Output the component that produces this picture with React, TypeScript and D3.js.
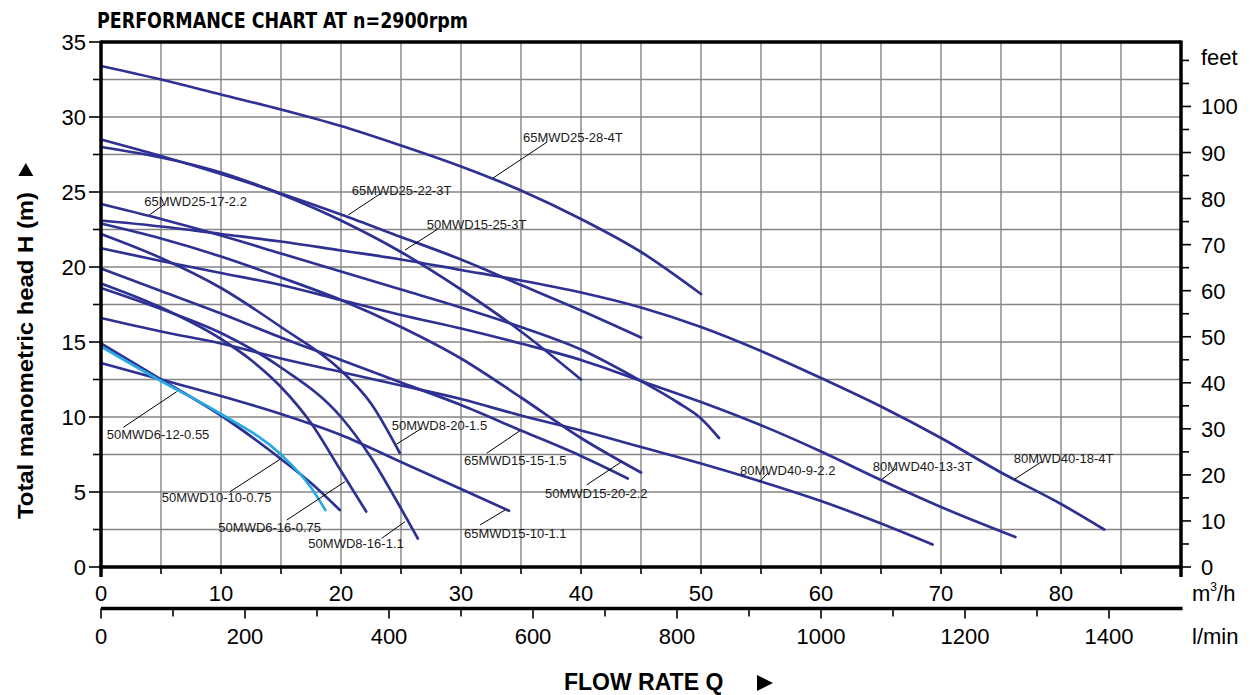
import React from 'react';
import * as d3 from 'd3';

type Pt = [number, number];

// ---------- axis tick values ----------
const flowTicksM3h = [0, 10, 20, 30, 40, 50, 60, 70, 80];
const flowMinorM3h = [5, 15, 25, 35, 45, 55, 65, 75, 85];
const headTicks = [0, 5, 10, 15, 20, 25, 30, 35];
const headMinor = [2.5, 7.5, 12.5, 17.5, 22.5, 27.5, 32.5];
const feetTicks = [0, 10, 20, 30, 40, 50, 60, 70, 80, 90, 100];
const feetMinor = [5, 15, 25, 35, 45, 55, 65, 75, 85, 95, 105, 110];
const lminTicks = [0, 200, 400, 600, 800, 1000, 1200, 1400];
const lminMinor = [100, 300, 500, 700, 900, 1100, 1300];

// ---------- pump curves: [Q m3/h, H m] ----------
const p65MWD25_28_4T: Pt[] = [[0, 33.4], [5, 32.5], [10, 31.5], [15, 30.5], [20, 29.4], [25, 28.1], [30, 26.7], [35, 25.1], [40, 23.2], [45, 21.0], [50, 18.2]];
const p65MWD25_22_3T: Pt[] = [[0, 28.5], [5, 27.4], [10, 26.2], [15, 24.9], [20, 23.5], [25, 22.0], [30, 20.5], [35, 18.8], [40, 17.1], [45, 15.3]];
const p50MWD15_25_3T: Pt[] = [[0, 28.0], [5, 27.3], [10, 26.3], [15, 24.85], [20, 23.1], [25, 21.0], [30, 18.5], [35, 15.7], [40, 12.5]];
const p65MWD25_17_22: Pt[] = [[0, 24.2], [5, 23.2], [10, 22.1], [15, 20.9], [20, 19.7], [25, 18.5], [30, 17.3], [35, 16.0], [40, 14.5], [45, 12.4], [48, 11.0], [50, 9.9], [51.5, 8.6]];
const p80MWD40_18_4T: Pt[] = [[0, 23.1], [5, 22.7], [10, 22.2], [15, 21.7], [20, 21.1], [25, 20.5], [30, 19.8], [35, 19.1], [40, 18.3], [45, 17.3], [50, 16.0], [55, 14.4], [60, 12.6], [65, 10.7], [70, 8.6], [75, 6.3], [80, 4.2], [83.6, 2.5]];
const p50MWD15_20_22: Pt[] = [[0, 22.9], [5, 21.9], [10, 20.7], [15, 19.3], [20, 17.8], [25, 16.0], [30, 13.9], [35, 11.3], [40, 8.6], [45, 6.3]];
const p50MWD8_20_15: Pt[] = [[0, 22.2], [5, 20.6], [10, 18.6], [15, 16.0], [20, 13.1], [22.5, 10.9], [24.9, 7.6]];
const p80MWD40_13_3T: Pt[] = [[0, 21.25], [5, 20.4], [10, 19.6], [15, 18.8], [20, 17.8], [25, 16.8], [30, 15.9], [35, 14.9], [40, 13.8], [45, 12.4], [50, 11.0], [55, 9.45], [60, 7.7], [65, 5.8], [70, 4.0], [76.2, 2.0]];
const p65MWD15_15_15: Pt[] = [[0, 19.9], [5, 18.4], [10, 16.9], [15, 15.3], [20, 13.8], [25, 12.3], [30, 10.8], [35, 9.1], [40, 7.4], [43.9, 5.9]];
const p50MWD6_16_075: Pt[] = [[0, 18.9], [5, 17.3], [10, 15.2], [12.5, 13.8], [15, 12.0], [17.5, 9.6], [20, 6.4], [22.1, 3.7]];
const p50MWD8_16_11: Pt[] = [[0, 18.6], [5, 17.2], [10, 15.6], [15, 13.3], [20, 10.0], [22.5, 7.3], [24.5, 4.6], [26.4, 1.9]];
const p80MWD40_9_22: Pt[] = [[0, 16.6], [5, 15.7], [10, 14.9], [15, 13.9], [20, 13.0], [25, 12.1], [30, 11.2], [35, 10.1], [40, 9.1], [45, 8.0], [50, 6.9], [55, 5.7], [60, 4.4], [65, 2.9], [69.3, 1.5]];
const p50MWD10_10_075: Pt[] = [[0, 14.9], [5, 12.5], [10, 10.1], [15, 7.2], [17.5, 5.6], [19.9, 3.8]];
const p65MWD15_10_11: Pt[] = [[0, 13.6], [5, 12.5], [10, 11.4], [15, 10.2], [20, 8.8], [25, 7.0], [30, 5.2], [34, 3.75]];
const p50MWD6_12_055: Pt[] = [[0, 14.7], [5, 12.4], [10, 10.2], [15, 7.5], [17.5, 5.3], [18.7, 3.8]];

const curves: { name: string; data: Pt[]; light?: boolean }[] = [
  { name: '65MWD25-28-4T', data: p65MWD25_28_4T },
  { name: '65MWD25-22-3T', data: p65MWD25_22_3T },
  { name: '50MWD15-25-3T', data: p50MWD15_25_3T },
  { name: '65MWD25-17-2.2', data: p65MWD25_17_22 },
  { name: '80MWD40-18-4T', data: p80MWD40_18_4T },
  { name: '50MWD15-20-2.2', data: p50MWD15_20_22 },
  { name: '50MWD8-20-1.5', data: p50MWD8_20_15 },
  { name: '80MWD40-13-3T', data: p80MWD40_13_3T },
  { name: '65MWD15-15-1.5', data: p65MWD15_15_15 },
  { name: '50MWD6-16-0.75', data: p50MWD6_16_075 },
  { name: '50MWD8-16-1.1', data: p50MWD8_16_11 },
  { name: '80MWD40-9-2.2', data: p80MWD40_9_22 },
  { name: '50MWD10-10-0.75', data: p50MWD10_10_075 },
  { name: '65MWD15-10-1.1', data: p65MWD15_10_11 },
  { name: '50MWD6-12-0.55', data: p50MWD6_12_055, light: true },
];

// label annotations in data units: text anchor (q,h) and leader (q1,h1)->(q2,h2)
const labels: { text: string; q: number; h: number; l: [number, number, number, number] }[] = [
  { text: '65MWD25-28-4T', q: 35.17, h: 28.33, l: [37.17, 28.33, 32.67, 25.93] },
  { text: '65MWD25-22-3T', q: 20.89, h: 24.8, l: [23.25, 24.87, 20.61, 23.47] },
  { text: '65MWD25-17-2.2', q: 3.61, h: 24.07, l: [5.19, 24.13, 4.03, 23.47] },
  { text: '50MWD15-25-3T', q: 27.14, h: 22.53, l: [28.03, 22.51, 25.33, 21.13] },
  { text: '50MWD8-20-1.5', q: 24.23, h: 9.13, l: [26.73, 9.25, 24.64, 8.2] },
  { text: '65MWD15-15-1.5', q: 30.25, h: 6.8, l: [34.92, 9.09, 32.14, 7.58] },
  { text: '50MWD15-20-2.2', q: 37.0, h: 4.6, l: [43.39, 7.02, 40.47, 5.47] },
  { text: '80MWD40-9-2.2', q: 53.25, h: 6.13, l: [54.88, 5.67, 55.58, 6.27] },
  { text: '80MWD40-13-3T', q: 64.32, h: 6.42, l: [65.08, 5.85, 66.28, 6.58] },
  { text: '80MWD40-18-4T', q: 76.07, h: 6.95, l: [76.13, 5.85, 78.38, 7.02] },
  { text: '50MWD6-12-0.55', q: 0.48, h: 8.53, l: [1.86, 9.31, 6.31, 11.69] },
  { text: '50MWD10-10-0.75', q: 5.06, h: 4.35, l: [10.75, 5.02, 14.92, 7.18] },
  { text: '50MWD6-16-0.75', q: 9.78, h: 2.35, l: [15.48, 3.13, 20.33, 5.69] },
  { text: '50MWD8-16-1.1', q: 17.28, h: 1.25, l: [23.39, 1.91, 25.33, 3.02] },
  { text: '65MWD15-10-1.1', q: 30.25, h: 1.93, l: [31.58, 2.8, 33.67, 3.8] },
];

const FONT = '"Liberation Sans", Arial, Helvetica, sans-serif';
const NAVY = '#2e3192';
const LIGHT = '#27aae1';
const GRID = '#858585';

export default function App() {
  const W = 1250;
  const H = 695;
  const x = d3.scaleLinear().domain([0, 90]).range([101, 1181]);
  const y = d3.scaleLinear().domain([0, 35]).range([567, 42]);
  const yFt = d3.scaleLinear().domain([0, 114]).range([567, 42]);
  const xL = d3.scaleLinear().domain([0, 1500]).range([101, 1181]);
  const lmAxisY = 608.5;

  const line = d3
    .line<Pt>()
    .x((d) => x(d[0]))
    .y((d) => y(d[1]))
    .curve(d3.curveMonotoneX);

  const gridX = [...flowTicksM3h, ...flowMinorM3h].filter((v) => v > 0 && v < 90);
  const gridY = [...headTicks, ...headMinor].filter((v) => v > 0 && v < 35);

  const [x0, x1] = x.range();
  const [yb, yt] = y.range();

  return (
    <svg
      width={W}
      height={H}
      viewBox={`0 0 ${W} ${H}`}
      style={{ position: 'absolute', left: 0, top: 0, background: '#fff' }}
      fontFamily={FONT}
    >
      <rect x={0} y={0} width={W} height={H} fill="#fff" />

      {/* title */}
      <text
        x={97}
        y={28}
        fontFamily={'"DejaVu Sans Condensed", "Liberation Sans Narrow", "Liberation Sans", sans-serif'}
        fontWeight="bold"
        fontSize={21}
        textLength={371}
        lengthAdjust="spacingAndGlyphs"
        fill="#000"
      >
        PERFORMANCE CHART AT n=2900rpm
      </text>

      {/* grid */}
      <g stroke={GRID} strokeWidth={1.4}>
        {gridX.map((v) => (
          <line key={'gx' + v} x1={x(v)} x2={x(v)} y1={yt} y2={yb} />
        ))}
        {gridY.map((v) => (
          <line key={'gy' + v} x1={x0} x2={x1} y1={y(v)} y2={y(v)} />
        ))}
      </g>

      {/* curves */}
      <g fill="none" strokeLinecap="round" strokeLinejoin="round">
        {curves.map((c) => (
          <path key={c.name} d={line(c.data) || ''} stroke={c.light ? LIGHT : NAVY} strokeWidth={2.7} />
        ))}
      </g>

      {/* labels */}
      <g fontSize={13} fill="#1a1a1a">
        {labels.map((lb) => (
          <g key={lb.text}>
            <line x1={x(lb.l[0])} y1={y(lb.l[1])} x2={x(lb.l[2])} y2={y(lb.l[3])} stroke="#000" strokeWidth={1} />
            <text x={x(lb.q)} y={y(lb.h)}>
              {lb.text}
            </text>
          </g>
        ))}
      </g>

      {/* frame */}
      <g stroke="#000" strokeWidth={3.5} fill="none">
        <line x1={x0} x2={x1} y1={yt} y2={yt} />
        <line x1={x0 - 2} x2={x1 + 2} y1={yb} y2={yb} />
        <line x1={x0} x2={x0} y1={yt - 1.5} y2={yb + 10} />
        <line x1={x1} x2={x1} y1={yt - 1.5} y2={yb + 10} />
      </g>

      {/* left axis ticks + labels */}
      <g stroke="#000" strokeWidth={1.6}>
        {headTicks.map((v) => (
          <line key={'lt' + v} x1={x0 - 12} x2={x0} y1={y(v)} y2={y(v)} />
        ))}
        {headMinor.map((v) => (
          <line key={'lm' + v} x1={x0 - 8} x2={x0} y1={y(v)} y2={y(v)} />
        ))}
      </g>
      <g fontSize={22} textAnchor="end" fill="#000">
        {headTicks.map((v) => (
          <text key={'ll' + v} x={x0 - 15} y={y(v) + 8}>
            {v}
          </text>
        ))}
      </g>

      {/* right axis (feet) */}
      <g stroke="#000" strokeWidth={1.6}>
        {feetTicks.map((v) => (
          <line key={'rt' + v} x1={x1} x2={x1 + 10} y1={yFt(v)} y2={yFt(v)} />
        ))}
        {feetMinor.map((v) => (
          <line key={'rm' + v} x1={x1} x2={x1 + 8} y1={yFt(v)} y2={yFt(v)} />
        ))}
      </g>
      <g fontSize={22} fill="#000">
        {feetTicks.map((v) => (
          <text key={'rl' + v} x={x1 + 20} y={yFt(v) + 8}>
            {v}
          </text>
        ))}
        <text x={x1 + 20} y={yFt(110) + 5}>
          feet
        </text>
      </g>

      {/* bottom axis m3/h */}
      <g stroke="#000" strokeWidth={1.6}>
        {[...flowTicksM3h, ...flowMinorM3h].map((v) => (
          <line key={'bt' + v} x1={x(v)} x2={x(v)} y1={yb} y2={yb + 7} />
        ))}
      </g>
      <g fontSize={22} textAnchor="middle" fill="#000">
        {flowTicksM3h.map((v) => (
          <text key={'bl' + v} x={x(v)} y={yb + 34}>
            {v}
          </text>
        ))}
      </g>
      <text x={x1 + 11} y={yb + 34} fontSize={22} fill="#000">
        m
        <tspan fontSize={12} dy={-10}>
          3
        </tspan>
        <tspan dy={10}>/h</tspan>
      </text>

      {/* bottom axis l/min */}
      <line x1={xL(0)} x2={x1 + 1.5} y1={lmAxisY} y2={lmAxisY} stroke="#000" strokeWidth={3.5} />
      <g stroke="#000" strokeWidth={1.6}>
        {lminTicks.map((v) => (
          <line key={'lt2' + v} x1={xL(v)} x2={xL(v)} y1={lmAxisY} y2={lmAxisY + 10} />
        ))}
        {lminMinor.map((v) => (
          <line key={'lm2' + v} x1={xL(v)} x2={xL(v)} y1={lmAxisY} y2={lmAxisY + 8} />
        ))}
      </g>
      <g fontSize={22} textAnchor="middle" fill="#000">
        {lminTicks.map((v) => (
          <text key={'ll2' + v} x={xL(v)} y={lmAxisY + 35}>
            {v}
          </text>
        ))}
      </g>
      <text x={x1 + 11} y={lmAxisY + 35} fontSize={22} fill="#000">
        l/min
      </text>

      {/* axis titles */}
      <text
        transform={`translate(33, ${(519 + 192) / 2}) rotate(-90)`}
        textAnchor="middle"
        fontSize={22.5}
        fontWeight="bold"
        fill="#000"
        textLength={327}
        lengthAdjust="spacingAndGlyphs"
      >
        Total manometric head H (m)
      </text>
      <path d="M25.8,163 L33.3,176 L18.3,176 Z" fill="#000" />

      <text x={564} y={690} fontSize={23} fontWeight="bold" fill="#000">
        FLOW RATE Q
      </text>
      <path d="M757,675 L773,683 L757,691 Z" fill="#000" />
    </svg>
  );
}
